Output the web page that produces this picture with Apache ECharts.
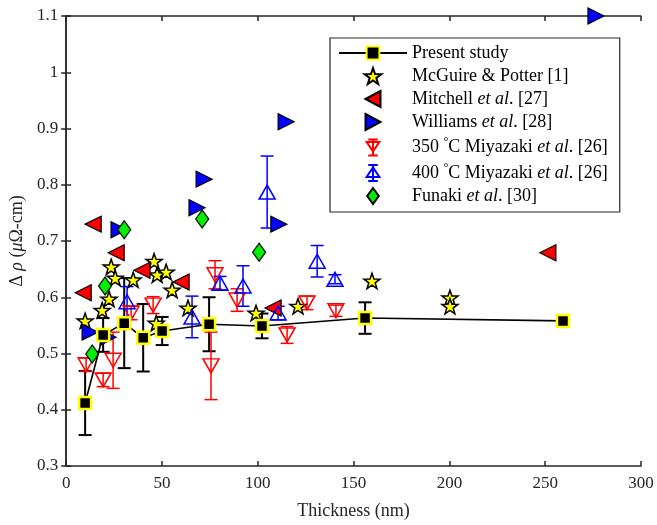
<!DOCTYPE html>
<html>
<head>
<meta charset="utf-8">
<script src="https://cdn.jsdelivr.net/npm/echarts@6/dist/echarts.min.js"></script>
<style>
  html, body { margin: 0; padding: 0; background: #fff; }
  #chart { width: 657px; height: 525px; }
</style>
</head>
<body>
<div id="chart"></div>
<script>
// 数据
var presentX = [9.9, 19.3, 30.3, 40.2, 50.1, 74.6, 102.2, 156, 259.3];
var presentY = [0.412, 0.533, 0.554, 0.528, 0.540, 0.552, 0.549, 0.563, 0.558];
var presentErr = [0.057, 0.03, 0.08, 0.06, 0.025, 0.048, 0.022, 0.028, 0.005];

var mcguireX = [9.9, 18.8, 22.4, 23.5, 25.6, 35.0, 45.9, 47.5, 52.2, 55.3, 63.6, 47, 99.1, 121, 159.6, 200.3, 200.3];
var mcguireY = [0.558, 0.577, 0.597, 0.654, 0.634, 0.631, 0.664, 0.640, 0.645, 0.613, 0.581, 0.554, 0.572, 0.584, 0.629, 0.599, 0.584];

var mitchellX = [14.1, 26.1, 39.6, 8.9, 60, 108, 251.4];
var mitchellY = [0.730, 0.679, 0.648, 0.608, 0.627, 0.581, 0.679];

var williamsX = [27.6, 68.3, 72, 111, 114.8, 276.5, 12.5, 21.9];
var williamsY = [0.720, 0.759, 0.810, 0.730, 0.912, 1.1, 0.538, 0.529];

var miya350X = [10.4, 19.3, 24.5, 33.9, 45.4, 77.7, 89.2, 75.6, 115.3, 125.7, 140.8];
var miya350Y = [0.480, 0.453, 0.488, 0.572, 0.586, 0.640, 0.595, 0.478, 0.533, 0.590, 0.576];
var miya350Err = [0.012, 0.012, 0.05, 0.012, 0.015, 0.025, 0.02, 0.06, 0.015, 0.012, 0.01];

var miya400X = [31.8, 65.7, 80.3, 92.3, 104.9, 110.6, 131, 140.3];
var miya400Y = [0.592, 0.565, 0.625, 0.620, 0.787, 0.572, 0.664, 0.632];
var miya400Err = [0.027, 0.037, 0.012, 0.036, 0.064, 0.012, 0.028, 0.008];

var funakiX = [30.3, 20.3, 13.6, 71, 100.7];
var funakiY = [0.720, 0.620, 0.499, 0.739, 0.680];

var FONT = 'Liberation Serif';
var AXIS = '#262626';
// 图例/标记形状
var STAR = 'path://M0,-10 L2.35,-3.24 L9.51,-3.09 L3.8,1.24 L5.88,8.09 L0,4 L-5.88,8.09 L-3.8,1.24 L-9.51,-3.09 L-2.35,-3.24 Z';
var ICON_LEFT = 'path://M0,8 L15,0 L15,16 Z';
var ICON_RIGHT = 'path://M0,0 L15,8 L0,16 Z';
var ICON_DOWN = 'path://M0,3 L16,3 L8,15 Z M8,0 L8,20 M2,0 L14,0 M2,20 L14,20';
var ICON_UP = 'path://M8,3 L16,15 L0,15 Z M8,0 L8,20 M2,0 L14,0 M2,20 L14,20';
var ICON_DIAMOND = 'path://M6.5,0 L13,9 L6.5,18 L0,9 Z';

function pts(xs, ys) {
  return xs.map(function (x, i) { return [x, ys[i]]; });
}
function errPts(xs, ys, es) {
  return xs.map(function (x, i) { return [x, ys[i] - es[i], ys[i] + es[i]]; });
}
// 误差棒
function errRender(color, capW, lw) {
  return function (params, api) {
    var x = api.value(0);
    var p1 = api.coord([x, api.value(1)]);
    var p2 = api.coord([x, api.value(2)]);
    var h = capW / 2;
    var st = { stroke: color, lineWidth: lw };
    return {
      type: 'group',
      children: [
        { type: 'line', shape: { x1: p1[0], y1: p1[1], x2: p2[0], y2: p2[1] }, style: st },
        { type: 'line', shape: { x1: p1[0] - h, y1: p1[1], x2: p1[0] + h, y2: p1[1] }, style: st },
        { type: 'line', shape: { x1: p2[0] - h, y1: p2[1], x2: p2[0] + h, y2: p2[1] }, style: st }
      ]
    };
  };
}
function errSeries(name, data, color, capW, lw) {
  return {
    name: name,
    type: 'custom',
    silent: true,
    renderItem: errRender(color, capW, lw),
    encode: { x: 0, y: [1, 2] },
    data: data,
    clip: true
  };
}

var legendNames = {
  'Present study': 'Present study',
  'McGuire': 'McGuire & Potter [1]',
  'Mitchell': 'Mitchell {i|et al}. [27]',
  'Williams': 'Williams {i|et al}. [28]',
  '350C': '350 {sup|°}C Miyazaki {i|et al}. [26]',
  '400C': '400 {sup|°}C Miyazaki {i|et al}. [26]',
  'Funaki': 'Funaki {i|et al}. [30]'
};

var dom = document.getElementById('chart');
var echar = echarts.init(dom);
var option = {
  animation: false,
  backgroundColor: '#fff',
  grid: { left: 66, right: 16, top: 16, bottom: 59 },
  legend: {
    orient: 'vertical',
    left: 330,
    top: 38,
    padding: [6, 12, 7, 8],
    itemGap: 5,
    itemWidth: 68,
    itemHeight: 16,
    symbolRotate: 0,
    symbolKeepAspect: true,
    borderColor: AXIS,
    borderWidth: 1.2,
    backgroundColor: '#fff',
    data: [
      { name: 'Present study' },
      { name: 'McGuire', icon: STAR },
      { name: 'Mitchell', icon: ICON_LEFT },
      { name: 'Williams', icon: ICON_RIGHT },
      { name: '350C', icon: ICON_DOWN },
      { name: '400C', icon: ICON_UP },
      { name: 'Funaki', icon: ICON_DIAMOND }
    ],
    formatter: function (name) { return legendNames[name]; },
    textStyle: {
      fontFamily: FONT, fontSize: 18, color: '#000',
      rich: {
        i: { fontFamily: FONT, fontSize: 18, fontStyle: 'italic', color: '#000' },
        sup: { fontFamily: FONT, fontSize: 12, color: '#000', padding: [0, 0, 11, 0] }
      }
    }
  },
  xAxis: [
    {
      type: 'value', min: 0, max: 300, interval: 50,
      name: 'Thickness (nm)', nameLocation: 'middle', nameGap: 36,
      nameTextStyle: { fontFamily: FONT, fontSize: 18, color: AXIS },
      axisLine: { show: true, lineStyle: { color: AXIS, width: 1.5 } },
      axisTick: { show: true, inside: true, length: 5, lineStyle: { color: AXIS, width: 1.5 } },
      axisLabel: { fontFamily: FONT, fontSize: 17, color: AXIS, margin: 9 },
      splitLine: { show: false }
    },
    {
      type: 'value', min: 0, max: 300, interval: 50, position: 'top',
      axisLine: { show: true, lineStyle: { color: AXIS, width: 1.5 } },
      axisTick: { show: true, inside: true, length: 5, lineStyle: { color: AXIS, width: 1.5 } },
      axisLabel: { show: false },
      splitLine: { show: false }
    }
  ],
  yAxis: [
    {
      type: 'value', min: 0.3, max: 1.1, interval: 0.1,
      name: '{n|Δ }{i|ρ}{n| (}{i|μ}{n|Ω-cm)}', nameLocation: 'middle', nameGap: 37,
      nameTextStyle: {
        fontFamily: FONT, fontSize: 18, color: AXIS,
        rich: {
          n: { fontFamily: FONT, fontSize: 18, color: AXIS },
          i: { fontFamily: FONT, fontSize: 18, fontStyle: 'italic', color: AXIS }
        }
      },
      axisLine: { show: true, lineStyle: { color: AXIS, width: 1.5 } },
      axisTick: { show: true, inside: true, length: 5, lineStyle: { color: AXIS, width: 1.5 } },
      axisLabel: {
        fontFamily: FONT, fontSize: 17, color: AXIS, margin: 8,
        formatter: function (v) { return String(Math.round(v * 10) / 10); }
      },
      splitLine: { show: false }
    },
    {
      type: 'value', min: 0.3, max: 1.1, interval: 0.1, position: 'right',
      axisLine: { show: true, lineStyle: { color: AXIS, width: 1.5 } },
      axisTick: { show: true, inside: true, length: 5, lineStyle: { color: AXIS, width: 1.5 } },
      axisLabel: { show: false },
      splitLine: { show: false }
    }
  ],
  series: [
    errSeries('err-present', errPts(presentX, presentY, presentErr), '#000', 13, 2),
    {
      name: 'Present study',
      type: 'line',
      data: pts(presentX, presentY),
      symbol: 'rect',
      symbolSize: 12,
      lineStyle: { color: '#000', width: 1.6 },
      itemStyle: { color: '#000', borderColor: '#ffff00', borderWidth: 2.5 }
    },
    {
      name: 'McGuire',
      type: 'scatter',
      data: pts(mcguireX, mcguireY),
      symbol: STAR,
      symbolKeepAspect: true,
      symbolSize: 16,
      itemStyle: { color: '#ffff00', borderColor: '#000', borderWidth: 1.5, opacity: 1 }
    },
    {
      name: 'Mitchell',
      type: 'scatter',
      data: pts(mitchellX, mitchellY),
      symbol: 'triangle',
      symbolRotate: 90,
      symbolSize: [16, 16],
      itemStyle: { color: '#ff0000', borderColor: '#000', borderWidth: 1.2, opacity: 1 }
    },
    {
      name: 'Williams',
      type: 'scatter',
      data: pts(williamsX, williamsY),
      symbol: 'triangle',
      symbolRotate: -90,
      symbolSize: [16, 16],
      clip: false,
      itemStyle: { color: '#0000ff', borderColor: '#000', borderWidth: 1.2, opacity: 1 }
    },
    errSeries('err-350', errPts(miya350X, miya350Y, miya350Err), '#ff0000', 13, 1.5),
    {
      name: '350C',
      type: 'scatter',
      data: pts(miya350X, miya350Y),
      symbol: 'triangle',
      symbolRotate: 180,
      symbolSize: [16, 14],
      itemStyle: { color: 'rgba(255,255,255,0)', borderColor: '#ff0000', borderWidth: 1.5, opacity: 1 }
    },
    errSeries('err-400', errPts(miya400X, miya400Y, miya400Err), '#0000ff', 13, 1.5),
    {
      name: '400C',
      type: 'scatter',
      data: pts(miya400X, miya400Y),
      symbol: 'triangle',
      symbolSize: [16, 14],
      itemStyle: { color: 'rgba(255,255,255,0)', borderColor: '#0000ff', borderWidth: 1.5, opacity: 1 }
    },
    {
      name: 'Funaki',
      type: 'scatter',
      data: pts(funakiX, funakiY),
      symbol: 'diamond',
      symbolSize: [13, 18],
      itemStyle: { color: '#00ee00', borderColor: '#000', borderWidth: 1.2, opacity: 1 }
    }
  ]
};
echar.clear();
echar.resize();
echar.setOption(option);
</script>
</body>
</html>
